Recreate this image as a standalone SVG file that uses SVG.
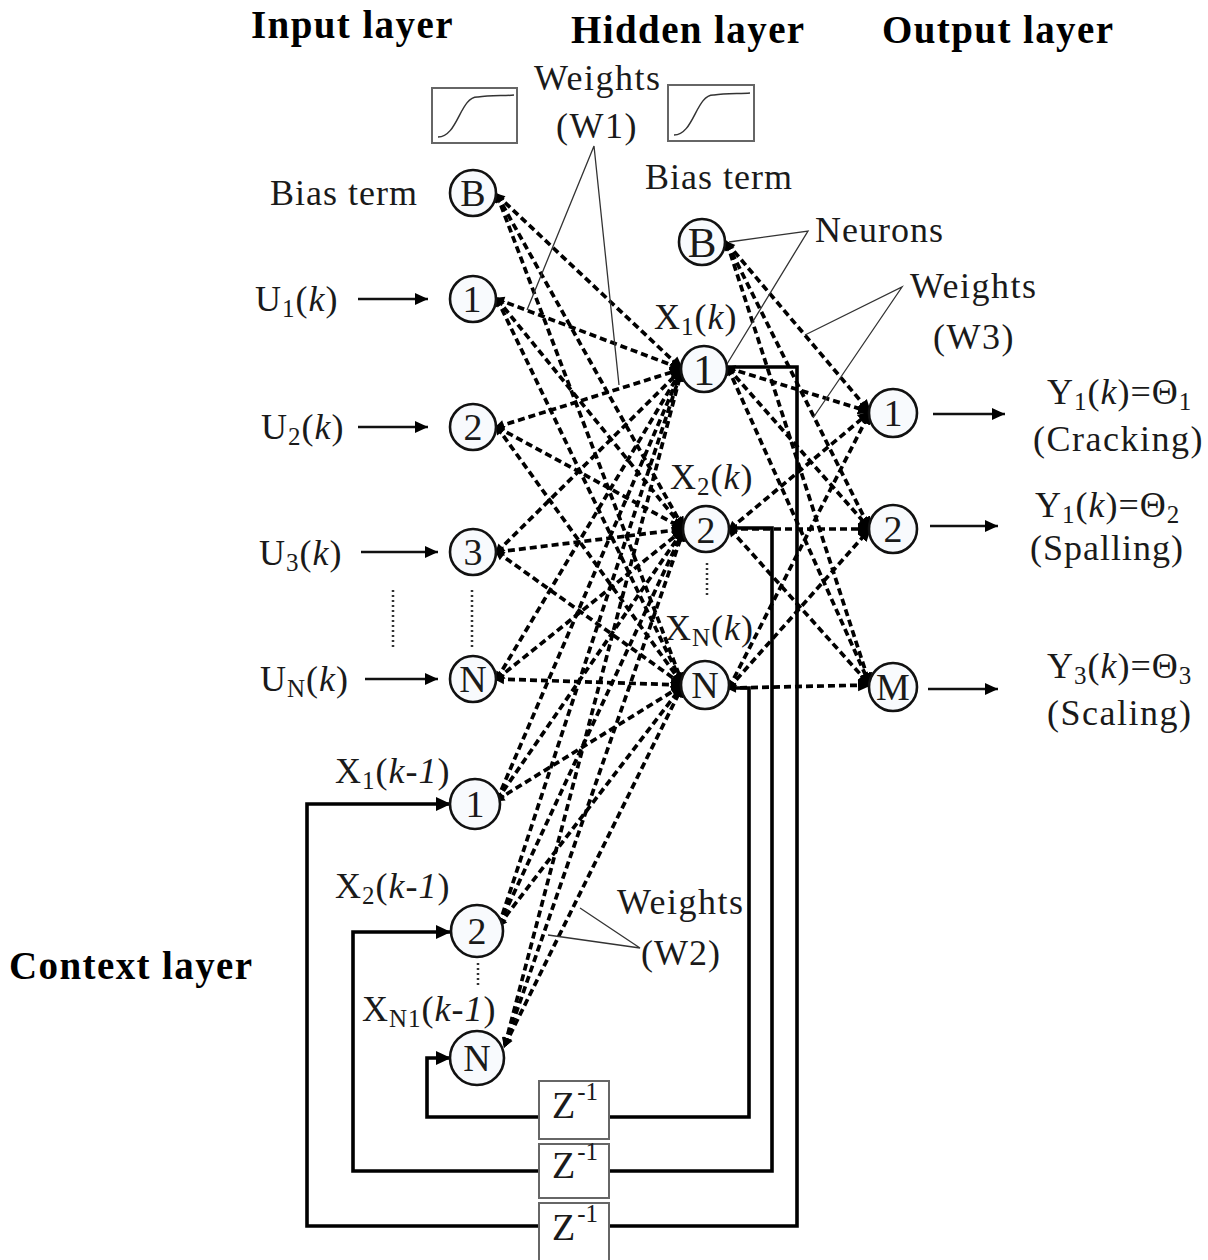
<svg xmlns="http://www.w3.org/2000/svg" width="1208" height="1260" viewBox="0 0 1208 1260">
<style>
text{font-family:"Liberation Serif","Times New Roman",serif;fill:#1a1a1a;font-size:36px;letter-spacing:1px}
.h{font-weight:bold;font-size:39px;fill:#000;letter-spacing:1.4px}
.w{letter-spacing:1.5px}
.n{font-size:38px;text-anchor:middle;letter-spacing:0}
.z{font-size:38px;letter-spacing:0}
.i{font-style:italic}
.s{font-size:25px}
.d{stroke:#000;stroke-width:3.7;stroke-dasharray:7 4;fill:none;marker-end:url(#a);marker-start:url(#b)}
.f{stroke:#000;stroke-width:3.6;fill:none}
.t{stroke:#333;stroke-width:1.3;fill:none}
.r{stroke:#111;stroke-width:2.6;fill:none;marker-end:url(#p)}
.o{stroke:#333;stroke-width:2.5;stroke-dasharray:2 3;fill:none}
.nc{fill:#f8fafd;stroke:#111;stroke-width:2.6}
.b{fill:#fff;stroke:#666;stroke-width:2}
.cv{fill:none;stroke:#333;stroke-width:1.5}
</style>
<defs>
<marker id="a" markerUnits="userSpaceOnUse" markerWidth="16" markerHeight="16" refX="12" refY="8" orient="auto"><path d="M0 2L14 8L0 14z" fill="#000"/></marker>
<marker id="b" markerUnits="userSpaceOnUse" markerWidth="12" markerHeight="12" refX="3" refY="6" orient="auto"><path d="M10 1L0 6L10 11z" fill="#000"/></marker>
<marker id="p" markerUnits="userSpaceOnUse" markerWidth="16" markerHeight="14" refX="13" refY="7" orient="auto"><path d="M0 1L13 7L0 13z" fill="#000"/></marker>
<marker id="q" markerUnits="userSpaceOnUse" markerWidth="18" markerHeight="16" refX="15" refY="8" orient="auto"><path d="M0 1L15 8L0 15z" fill="#000"/></marker>
</defs>
<g id="connectors">
<g id="weights-w1">
<path class="d" d="M497 195L682 369"/><path class="d" d="M497 195L684 529"/><path class="d" d="M497 195L683 685"/>
<path class="d" d="M497 299L682 369"/><path class="d" d="M497 299L684 529"/><path class="d" d="M497 299L683 685"/>
<path class="d" d="M497 427L682 369"/><path class="d" d="M497 427L684 529"/><path class="d" d="M497 427L683 685"/>
<path class="d" d="M497 552L682 369"/><path class="d" d="M497 552L684 529"/><path class="d" d="M497 552L683 685"/>
<path class="d" d="M497 679L682 369"/><path class="d" d="M497 679L684 529"/><path class="d" d="M497 679L683 685"/>
</g>
<g id="weights-w2">
<path class="d" d="M497 800L682 369"/><path class="d" d="M497 800L684 529"/><path class="d" d="M497 800L683 685"/>
<path class="d" d="M499 925L682 369"/><path class="d" d="M499 925L684 529"/><path class="d" d="M499 925L683 685"/>
<path class="d" d="M505 1045L682 369"/><path class="d" d="M505 1045L684 529"/><path class="d" d="M505 1045L683 685"/>
</g>
<g id="weights-w3">
<path class="d" d="M727 243L870 412"/><path class="d" d="M727 243L870 529"/><path class="d" d="M727 243L870 685"/>
<path class="d" d="M728 368L870 412"/><path class="d" d="M728 368L870 529"/><path class="d" d="M728 368L870 685"/>
<path class="d" d="M730 529L870 412"/><path class="d" d="M730 529L870 529"/><path class="d" d="M730 529L870 685"/>
<path class="d" d="M729 688L870 412"/><path class="d" d="M729 688L870 529"/><path class="d" d="M729 688L870 685"/>
</g>
<g id="feedback">
<path class="f" style="marker-end:url(#q)" d="M728 367H797V1226H307V804H451"/>
<path class="f" style="marker-end:url(#q)" d="M730 528H772V1171H353V932H451"/>
<path class="f" style="marker-end:url(#q)" d="M730 688H749V1117H427V1058H451"/>
</g>
<g id="inputs-outputs">
<path class="r" d="M358 299H428"/><path class="r" d="M358 427H428"/><path class="r" d="M361 552H438"/><path class="r" d="M365 679H438"/>
<path class="r" d="M933 414H1005"/><path class="r" d="M930 526H998"/><path class="r" d="M928 689H998"/>
</g>
<g id="callouts">
<path class="t" d="M527 310L594 146L619 385"/>
<path class="t" d="M729 242L808 231L727 364"/>
<path class="t" d="M805 335L902 287L813 418"/>
<path class="t" d="M580 908L640 948L548 935"/>
</g>
<g id="ellipsis">
<path class="o" d="M393 590V648"/><path class="o" d="M472 590V648"/><path class="o" d="M707 563V597"/><path class="o" d="M478 963V985"/>
</g>
</g>
<g id="sigmoid-1"><rect class="b" x="432" y="88" width="85" height="55"/><path class="cv" d="M438 137C458 137 460 96 478 97C490 95 505 96 514 95"/></g>
<g id="sigmoid-2"><rect class="b" x="668" y="85" width="86" height="56"/><path class="cv" d="M674 135C694 135 696 94 714 95C726 93 741 94 750 93"/></g>
<g id="in-b"><circle class="nc" cx="473" cy="193" r="23"/><text class="n" x="473" y="206">B</text></g>
<g id="in-1"><circle class="nc" cx="473" cy="299" r="23"/><text class="n" x="472" y="312">1</text></g>
<g id="in-2"><circle class="nc" cx="473" cy="427" r="23"/><text class="n" x="473" y="440">2</text></g>
<g id="in-3"><circle class="nc" cx="473" cy="552" r="23"/><text class="n" x="473" y="565">3</text></g>
<g id="in-n"><circle class="nc" cx="473" cy="679" r="23"/><text class="n" x="473" y="692">N</text></g>
<g id="ctx-1"><circle class="nc" cx="475" cy="804" r="25"/><text class="n" x="475" y="817">1</text></g>
<g id="ctx-2"><circle class="nc" cx="477" cy="931" r="26"/><text class="n" x="477" y="944">2</text></g>
<g id="ctx-n"><circle class="nc" cx="477" cy="1058" r="27"/><text class="n" x="477" y="1071">N</text></g>
<g id="hid-b"><circle class="nc" cx="702" cy="242" r="23"/><text class="n" x="702" y="257" style="font-size:43px">B</text></g>
<g id="hid-1"><circle class="nc" cx="704" cy="369" r="23"/><text class="n" x="704" y="385" style="font-size:44px">1</text></g>
<g id="hid-2"><circle class="nc" cx="706" cy="529" r="23"/><text class="n" x="706" y="543">2</text></g>
<g id="hid-n"><circle class="nc" cx="705" cy="685" r="24"/><text class="n" x="705" y="698">N</text></g>
<g id="out-1"><circle class="nc" cx="893" cy="413" r="24"/><text class="n" x="893" y="426">1</text></g>
<g id="out-2"><circle class="nc" cx="893" cy="529" r="24"/><text class="n" x="893" y="542">2</text></g>
<g id="out-m"><circle class="nc" cx="893" cy="687" r="24"/><text class="n" x="893" y="700">M</text></g>
<g id="z-1"><rect class="b" x="539" y="1081" width="70" height="58"/><text class="z" x="552" y="1118">Z<tspan class="s" dy="-18" dx="2">-1</tspan></text></g>
<g id="z-2"><rect class="b" x="539" y="1144" width="70" height="54"/><text class="z" x="552" y="1178">Z<tspan class="s" dy="-18" dx="2">-1</tspan></text></g>
<g id="z-3"><rect class="b" x="539" y="1203" width="70" height="60"/><text class="z" x="552" y="1240">Z<tspan class="s" dy="-18" dx="2">-1</tspan></text></g>
<g id="labels">
<text class="h" x="251" y="38">Input layer</text>
<text class="h" x="571" y="43">Hidden layer</text>
<text class="h" x="882" y="43">Output layer</text>
<text class="h" x="9" y="979">Context layer</text>
<text class="w" x="534" y="90">Weights</text><text class="w" x="556" y="138">(W1)</text>
<text x="270" y="205">Bias term</text><text x="645" y="189">Bias term</text>
<text x="815" y="242">Neurons</text>
<text class="w" x="910" y="298">Weights</text><text class="w" x="933" y="349">(W3)</text>
<text class="w" x="617" y="914">Weights</text><text x="641" y="965">(W2)</text>
<text x="255" y="311">U<tspan class="s" dy="6">1</tspan><tspan dy="-6">(</tspan><tspan class="i">k</tspan>)</text>
<text x="261" y="439">U<tspan class="s" dy="6">2</tspan><tspan dy="-6">(</tspan><tspan class="i">k</tspan>)</text>
<text x="259" y="565">U<tspan class="s" dy="6">3</tspan><tspan dy="-6">(</tspan><tspan class="i">k</tspan>)</text>
<text x="260" y="691">U<tspan class="s" dy="6">N</tspan><tspan dy="-6">(</tspan><tspan class="i">k</tspan>)</text>
<text x="654" y="329">X<tspan class="s" dy="6">1</tspan><tspan dy="-6">(</tspan><tspan class="i">k</tspan>)</text>
<text x="670" y="489">X<tspan class="s" dy="6">2</tspan><tspan dy="-6">(</tspan><tspan class="i">k</tspan>)</text>
<text x="665" y="640">X<tspan class="s" dy="6">N</tspan><tspan dy="-6">(</tspan><tspan class="i">k</tspan>)</text>
<text x="335" y="783">X<tspan class="s" dy="6">1</tspan><tspan dy="-6">(</tspan><tspan class="i">k-1</tspan>)</text>
<text x="335" y="898">X<tspan class="s" dy="6">2</tspan><tspan dy="-6">(</tspan><tspan class="i">k-1</tspan>)</text>
<text x="362" y="1021">X<tspan class="s" dy="6">N1</tspan><tspan dy="-6">(</tspan><tspan class="i">k-1</tspan>)</text>
<text x="1047" y="404">Y<tspan class="s" dy="6">1</tspan><tspan dy="-6">(</tspan><tspan class="i">k</tspan>)=Θ<tspan class="s" dy="6">1</tspan></text>
<text class="w" x="1033" y="451">(Cracking)</text>
<text x="1035" y="517">Y<tspan class="s" dy="6">1</tspan><tspan dy="-6">(</tspan><tspan class="i">k</tspan>)=Θ<tspan class="s" dy="6">2</tspan></text>
<text x="1030" y="560">(Spalling)</text>
<text x="1047" y="678">Y<tspan class="s" dy="6">3</tspan><tspan dy="-6">(</tspan><tspan class="i">k</tspan>)=Θ<tspan class="s" dy="6">3</tspan></text>
<text class="w" x="1047" y="725">(Scaling)</text>
</g>
</svg>
